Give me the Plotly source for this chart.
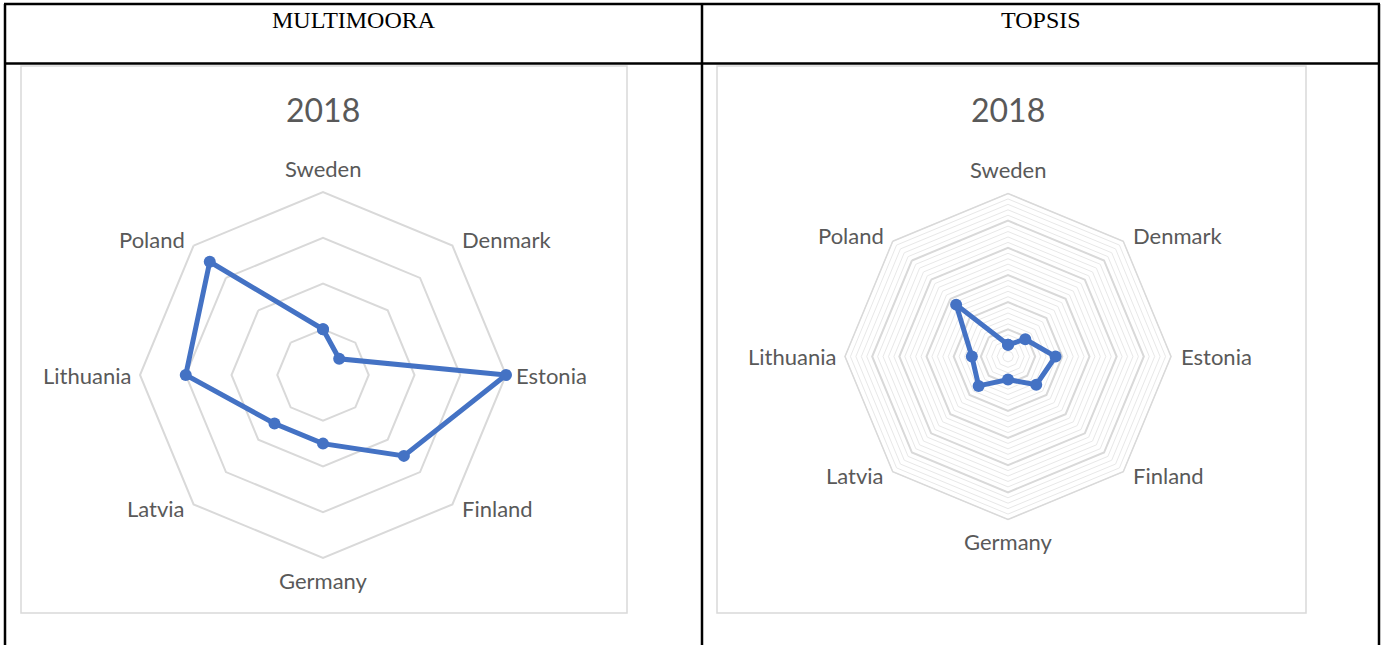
import math
import plotly.graph_objects as go

W, H = 1382, 645

countries = ["Sweden", "Denmark", "Estonia", "Finland", "Germany", "Latvia", "Lithuania", "Poland"]
multimoora_2018 = [2, 1, 8, 5, 3, 3, 6, 7]
topsis_2018 = [0.043, 0.09, 0.175, 0.147, 0.085, 0.153, 0.133, 0.27]
headers = ["MULTIMOORA", "TOPSIS"]
chart_title = "2018"

BLUE = "#4472C4"
GRID = "#d9d9d9"
MINOR = "#e8e8e8"
TXT = "#595959"
SANS = "Lato, 'Open Sans', sans-serif"
PAD = 1.1  # data layer is drawn on a slightly larger polar so edge markers are not clipped


def px_x(x):
    return x / W


def px_y(y):
    return 1 - y / H


def domain(cx, cy, r):
    return dict(x=[px_x(cx - r), px_x(cx + r)], y=[px_y(cy + r), px_y(cy - r)])


def closed(vals):
    return list(vals) + [vals[0]]


def angular(show_line=True, line_color=GRID, line_width=2):
    return dict(
        categoryarray=countries, categoryorder="array",
        direction="clockwise", rotation=90,
        showgrid=False, showline=show_line, linecolor=line_color, linewidth=line_width,
        ticks="", showticklabels=False)


def radial(rmax, dtick=None, color=GRID, width=1, grid=True):
    return dict(range=[0, rmax], dtick=dtick, showticklabels=False, ticks="",
                showline=False, showgrid=grid, gridcolor=color, gridwidth=width)


LEFT = (323, 375, 183)
RIGHT = (1008, 356.5, 163)

fig = go.Figure()

# grid-only subplots: one invisible point each so the subplot is drawn
for sp, vals in [("polar", multimoora_2018), ("polar2", topsis_2018), ("polar3", topsis_2018)]:
    fig.add_trace(go.Scatterpolar(
        r=[vals[0]], theta=[countries[0]], subplot=sp, mode="markers",
        marker=dict(size=1, opacity=0), showlegend=False, hoverinfo="skip"))

# data layers
for sp, vals in [("polar4", multimoora_2018), ("polar5", topsis_2018)]:
    fig.add_trace(go.Scatterpolar(
        r=closed(vals), theta=closed(countries), subplot=sp,
        mode="lines+markers", line=dict(color=BLUE, width=5),
        marker=dict(size=12, color=BLUE), showlegend=False, hoverinfo="skip"))

clear = "rgba(0,0,0,0)"
fig.update_layout(
    width=W, height=H,
    margin=dict(l=0, r=0, t=0, b=0),
    paper_bgcolor="white", plot_bgcolor="white",
    showlegend=False,
    polar=dict(domain=domain(*LEFT), gridshape="linear", bgcolor=clear,
               angularaxis=angular(), radialaxis=radial(8, 2, GRID, 2)),
    polar2=dict(domain=domain(*RIGHT), gridshape="linear", bgcolor=clear,
                angularaxis=angular(True, MINOR, 1), radialaxis=radial(0.6, 0.02, MINOR, 1)),
    polar3=dict(domain=domain(*RIGHT), gridshape="linear", bgcolor=clear,
                angularaxis=angular(True, GRID, 1.5), radialaxis=radial(0.6, 0.1, GRID, 1.5)),
    polar4=dict(domain=domain(LEFT[0], LEFT[1], LEFT[2] * PAD), gridshape="linear", bgcolor=clear,
                angularaxis=angular(False), radialaxis=radial(8 * PAD, grid=False)),
    polar5=dict(domain=domain(RIGHT[0], RIGHT[1], RIGHT[2] * PAD), gridshape="linear", bgcolor=clear,
                angularaxis=angular(False), radialaxis=radial(0.6 * PAD, grid=False)),
)

shapes = []
# table borders
for x0, y0, x1, y1 in [(4, 4, 1380, 4), (4, 63.5, 1380, 63.5), (5, 4, 5, 645),
                       (702, 4, 702, 645), (1379, 4, 1379, 645)]:
    shapes.append(dict(type="line", xref="paper", yref="paper",
                       x0=px_x(x0), y0=px_y(y0), x1=px_x(x1), y1=px_y(y1),
                       line=dict(color="black", width=2.5)))
# chart area borders
for x0, x1 in [(21, 627), (717, 1306)]:
    shapes.append(dict(type="rect", xref="paper", yref="paper",
                       x0=px_x(x0), y0=px_y(613), x1=px_x(x1), y1=px_y(66),
                       line=dict(color=GRID, width=1.5), layer="below"))
fig.update_layout(shapes=shapes)

for cx, h in zip([354, 1041], headers):
    fig.add_annotation(x=px_x(cx), y=px_y(20), xref="paper", yref="paper",
                       text=h, showarrow=False, xanchor="center", yanchor="middle",
                       font=dict(family="'Liberation Serif', 'Times New Roman', serif", size=24, color="black"))
for cx in [323, 1008]:
    fig.add_annotation(x=px_x(cx), y=px_y(109), xref="paper", yref="paper",
                       text=chart_title, showarrow=False, xanchor="center", yanchor="middle",
                       font=dict(family=SANS, size=32, color=TXT))

# category labels placed next to each octagon vertex, Excel style
for cx, cy, R in [LEFT, RIGHT]:
    n = len(countries)
    for i, name in enumerate(countries):
        ang = math.radians(90 - 360 * i / n)
        vx = cx + R * math.cos(ang)
        vy = cy - R * math.sin(ang)
        c, s = math.cos(ang), math.sin(ang)
        if abs(c) < 1e-6:
            xa, dx = "center", 0
        elif c > 0:
            xa, dx = "left", 8
        else:
            xa, dx = "right", -7
        if abs(s) < 1e-6:
            dy = 0
        elif abs(c) < 1e-6:
            dy = -24 if s > 0 else 22
        else:
            dy = -6 if s > 0 else 4
        fig.add_annotation(x=px_x(vx + dx), y=px_y(vy + dy), xref="paper", yref="paper",
                           text=name, showarrow=False, xanchor=xa, yanchor="middle",
                           font=dict(family=SANS, size=22, color=TXT))

fig.write_html("out.html", config={"displayModeBar": False},
               post_script="document.body.style.margin='0';"
                           "document.body.style.overflow='hidden';")
